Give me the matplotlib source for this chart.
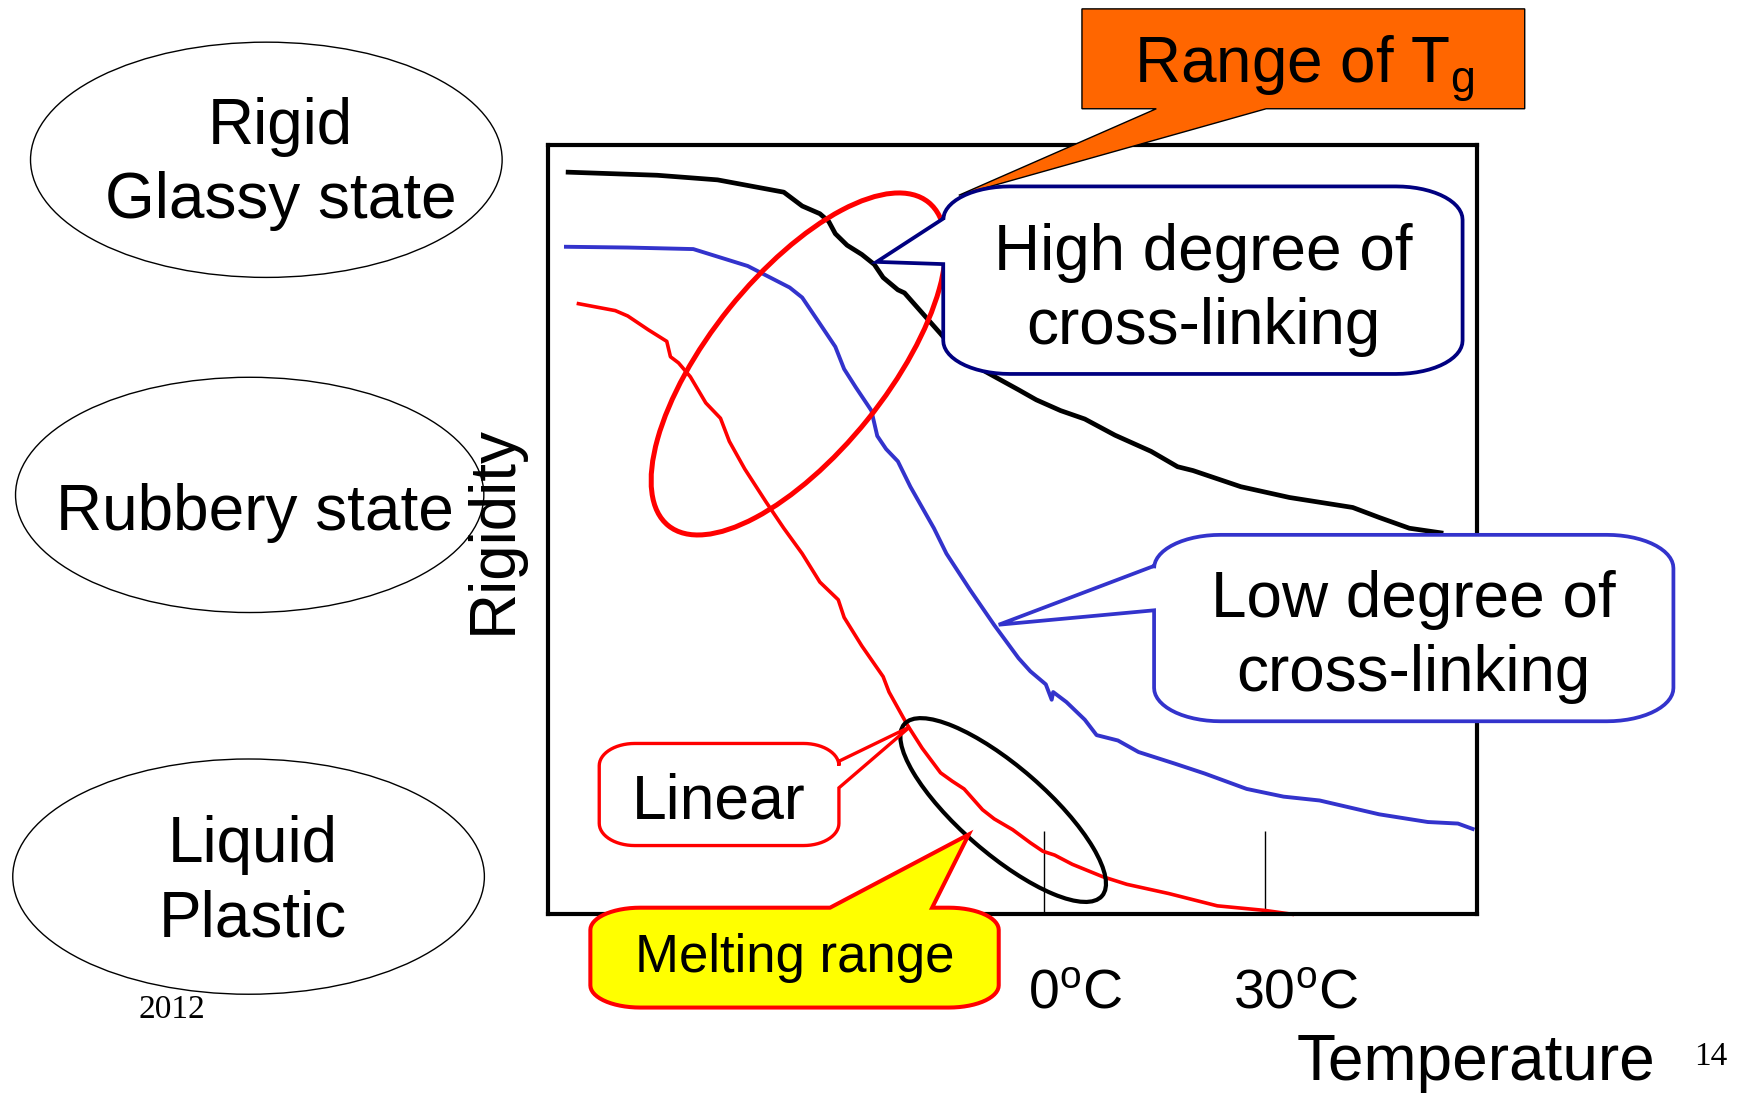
import numpy as np
import matplotlib.pyplot as plt
from matplotlib.patches import Ellipse, Polygon
from matplotlib.transforms import ScaledTranslation

plt.rcParams['font.family'] = ['Liberation Sans', 'DejaVu Sans']
plt.rcParams['mathtext.fontset'] = 'custom'
plt.rcParams['mathtext.rm'] = 'Liberation Sans'
plt.rcParams['mathtext.it'] = 'Liberation Sans:italic'

# temperature (deg C) vs rigidity (0-100, arbitrary)
high_temp = [-64.7, -52.6, -44.4, -35.4, -32.9, -30.5, -29.3, -28.4, -26.8, -24.8,
             -23.1, -21.9, -19.9, -19.0, -16.6, -14.1, -11.7, -9.2, -3.5, -1.1,
             2.2, 5.5, 9.6, 14.5, 18.1, 20.2, 26.7, 33.3, 41.9, 45.5, 49.6, 53.9]
high_rig = [96.5, 96.1, 95.5, 93.9, 92.1, 91.1, 90.1, 88.5, 87.0, 85.8,
            84.5, 82.8, 81.2, 80.8, 78.2, 75.5, 72.8, 71.2, 68.2, 66.9,
            65.5, 64.4, 62.3, 60.2, 58.2, 57.7, 55.6, 54.2, 52.9, 51.6, 50.2, 49.6]

low_temp = [-65.0, -56.6, -47.7, -40.3, -34.6, -32.9, -30.5, -28.4, -27.2, -25.6,
            -23.5, -22.7, -21.5, -19.9, -18.2, -16.6, -15.0, -13.3, -10.1, -6.8,
            -3.5, -1.9, 0.2, 1.0, 1.2, 3.0, 5.5, 7.1, 10.0, 12.8,
            17.7, 21.8, 27.5, 32.5, 37.4, 45.5, 52.1, 56.2, 58.2]
low_rig = [86.8, 86.7, 86.5, 84.3, 81.5, 80.2, 76.8, 73.8, 70.9, 68.5,
           65.5, 62.2, 60.5, 58.9, 55.6, 52.9, 50.2, 46.9, 42.2, 37.6,
           33.3, 31.6, 29.9, 27.9, 28.9, 27.6, 25.3, 23.3, 22.6, 21.1,
           19.6, 18.3, 16.3, 15.3, 14.8, 13.0, 12.0, 11.8, 11.1]

linear_temp = [-63.3, -58.3, -56.6, -53.8, -51.3, -50.8, -49.7, -48.1, -46.0, -44.0,
               -42.8, -40.7, -37.8, -35.4, -32.9, -30.5, -28.0, -27.2, -24.8, -21.9,
               -21.1, -18.6, -16.6, -14.1, -12.5, -10.9, -8.4, -6.8, -4.3, -1.9,
               -0.2, 1.4, 3.8, 7.9, 11.2, 16.9, 23.5, 30.0, 33.7]
linear_rig = [79.4, 78.5, 77.8, 76.0, 74.5, 72.5, 71.7, 69.9, 66.5, 64.5,
              61.5, 57.9, 53.6, 50.2, 46.9, 43.2, 40.9, 38.6, 34.9, 30.9,
              28.9, 24.6, 21.6, 18.4, 17.3, 16.3, 13.6, 12.4, 11.0, 9.3,
              8.2, 7.7, 6.5, 4.9, 3.9, 2.7, 1.1, 0.5, 0.0]

tick_temps = [0, 30]
tick_labels = ['0$^\\mathrm{o}$C', '30$^\\mathrm{o}$C']
state_names = ['Rigid\nGlassy state', 'Rubbery state', 'Liquid\nPlastic']

fig = plt.figure(figsize=(17.4, 10.93), dpi=100)

# main chart
ax = fig.add_axes([0.3151, 0.1635, 0.5338, 0.7036], zorder=1)
ax.plot(high_temp, high_rig, color='black', lw=3.4, solid_joinstyle='round', clip_on=False)
ax.plot(low_temp, low_rig, color='#3333CC', lw=2.8, solid_joinstyle='round', clip_on=False)
ax.plot(linear_temp, linear_rig, color='#FF0000', lw=2.6, solid_joinstyle='round', clip_on=False)
ax.set_xlim(-67.4, 58.8)
ax.set_ylim(0, 100)
for sp in ax.spines.values():
    sp.set_linewidth(3)
ax.set_yticks([])
ax.set_xticks(tick_temps)
ax.set_xticklabels(tick_labels, fontsize=40)
ax.tick_params(axis='x', direction='in', length=60, width=1, pad=39)
for lbl in ax.get_xticklabels():
    lbl.set_transform(lbl.get_transform() + ScaledTranslation(0.31, 0, fig.dpi_scale_trans))
ax.set_ylabel('Rigidity', fontsize=46, labelpad=18)
ax.set_xlabel('Temperature', fontsize=46)
ax.xaxis.set_label_coords(0.999, -0.155)

# overlay in sketch pixel units for the decorations
ov = fig.add_axes([0, 0, 1, 1], zorder=2)
ov.set_xlim(0, 1568)
ov.set_ylim(985, 0)
ov.axis('off')


def callout(x0, y0, x1, y1, rx, ry, side, base, tip, fc, ec, lw):
    def arc(cx, cy, a0, a1):
        t = np.radians(np.linspace(a0, a1, 16))
        return list(zip(cx + rx * np.cos(t), cy + ry * np.sin(t)))
    pts = [(x0 + rx, y0)]
    if side == 'top':
        pts += [(base[0], y0), tip, (base[1], y0)]
    pts += arc(x1 - rx, y0 + ry, -90, 0)
    if side == 'right':
        pts += [(x1, base[0]), tip, (x1, base[1])]
    pts += arc(x1 - rx, y1 - ry, 0, 90)
    if side == 'bottom':
        pts += [(base[1], y1), tip, (base[0], y1)]
    pts += arc(x0 + rx, y1 - ry, 90, 180)
    if side == 'left':
        pts += [(x0, base[1]), tip, (x0, base[0])]
    pts += arc(x0 + rx, y0 + ry, 180, 270)
    ov.add_patch(Polygon(pts, closed=True, fc=fc, ec=ec, lw=lw, zorder=3,
                         joinstyle='miter'))


# state ellipses on the left
for (cx, cy, w), name, tx, ty in zip([(240, 144, 425), (225, 446, 422), (224, 790, 425)],
                                     state_names, [253, 230, 228], [148, 462, 795]):
    ov.add_patch(Ellipse((cx, cy), w, 212, fc='none', ec='black', lw=1))
    ov.text(tx, ty, name, fontsize=46, ha='center', va='center',
            multialignment='center', linespacing=1.3)

# ellipses around the ranges
ov.add_patch(Ellipse((719.5, 328), 374, 160, angle=-51.2, fc='none', ec='#FF0000', lw=3.6, zorder=2))
ov.add_patch(Ellipse((904, 730), 236, 78, angle=41, fc='none', ec='black', lw=3, zorder=2))

# callouts
callout(975, 8, 1374, 98, 0, 0, 'bottom', (1042, 1141), (864, 176), '#FF6600', 'black', 1)
ov.text(1175, 75, 'Range of T$_\\mathrm{g}$', fontsize=46, ha='center', va='baseline', zorder=4)

callout(850, 168, 1318, 337, 60, 30, 'left', (197, 238), (790, 236), 'white', '#000080', 2.7)
ov.text(1084, 261, 'High degree of\ncross-linking', fontsize=46, ha='center', va='center',
        linespacing=1.3, zorder=4)

callout(1040, 482, 1508, 650, 60, 30, 'left', (510, 550), (900, 563), 'white', '#3333CC', 2.7)
ov.text(1274, 574, 'Low degree of\ncross-linking', fontsize=46, ha='center', va='center',
        linespacing=1.3, zorder=4)

callout(540, 670, 756, 762, 32, 20, 'right', (686, 710), (820, 655), 'white', '#FF0000', 2.4)
ov.text(648, 723, 'Linear', fontsize=45, ha='center', va='center', zorder=4)

callout(532, 818, 900, 908, 45, 20, 'top', (748, 840), (873, 752), '#FFFF00', '#FF0000', 2.9)
ov.text(716, 863, 'Melting range', fontsize=38, ha='center', va='center', zorder=4)

ov.text(155, 910, '2012', fontsize=24, family='Liberation Serif', ha='center', va='center')
ov.text(1542, 952, '14', fontsize=24, family='Liberation Serif', ha='center', va='center')

fig.savefig('out.png', dpi=100, facecolor='white')
